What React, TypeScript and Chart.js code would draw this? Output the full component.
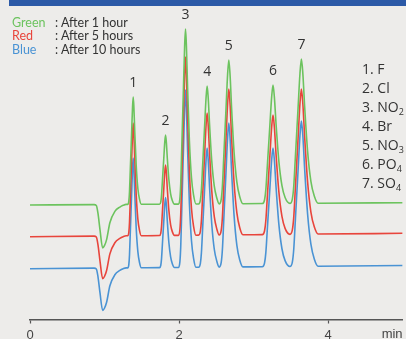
import { useEffect, useRef } from 'react';
import { Chart, registerables } from 'chart.js';

Chart.register(...registerables);

// ---- data ----
const seriesNames = ['Green', 'Red', 'Blue'];
const seriesDescriptions = [': After 1 hour', ': After 5 hours', ': After 10 hours'];
const seriesColors = ['#6cc35e', '#e8453c', '#4a93d4'];

const peakLabels = ['1', '2', '3', '4', '5', '6', '7'];
const compoundBase = ['1. F', '2. Cl', '3. NO', '4. Br', '5. NO', '6. PO', '7. SO'];
const compoundSub = ['', '', '2', '', '3', '4', '4'];

const xTickValues = [0, 2, 4];
const xUnitLabel = 'min';

// retention times (min) and half-widths (min)
const retentionTimes = [1.385, 1.819, 2.087, 2.377, 2.668, 3.261, 3.642];
const peakWidths = [0.031, 0.034, 0.04, 0.048, 0.054, 0.06, 0.064];

// apex signal of each peak (stacked signal units)
const greenApex = [222.5, 184.5, 290.5, 233.5, 259.5, 234.5, 260.5];
const redApex = [196.5, 154.5, 262.5, 206.5, 230.5, 204.5, 230.5];
const blueApex = [161.5, 122, 229.5, 171.5, 196.5, 171.5, 198.5];

// baseline level at start / end of run, and water-dip depth
const baselineStart = [114.5, 82.8, 50.8];
const baselineEnd = [116.8, 86.2, 54.0];
const dipDepth = [43.3, 42.6, 42.3];

// water dip shape (time, fraction of depth)
const dipTimes = [0.86, 0.89, 0.912, 0.939, 0.975, 0.999, 1.028, 1.072, 1.139, 1.206, 1.25, 1.29];
const dipFractions = [0, 0.02, 0.2, 0.58, 1.0, 0.95, 0.81, 0.42, 0.16, 0.06, 0.02, 0];

// peak shape (offset in half-widths, fraction of height)
const profileOffsets = [-2.4, -1.9, -1.6, -1.25, -0.7, -0.3, 0, 0.3, 0.7, 1.3, 2.0, 2.7, 3.5];
const profileFractions = [0, 0.03, 0.12, 0.33, 0.66, 0.9, 1, 0.9, 0.66, 0.36, 0.15, 0.05, 0];

const apexBySeries = [greenApex, redApex, blueApex];

function buildSeries(i: number) {
  const apex = apexBySeries[i];
  const base = (t: number) => baselineStart[i] + ((baselineEnd[i] - baselineStart[i]) * t) / 5;
  const pts: { x: number; y: number }[] = [];
  pts.push({ x: 0, y: base(0) });
  dipTimes.forEach((t, k) => pts.push({ x: t, y: base(t) - dipDepth[i] * dipFractions[k] }));
  retentionTimes.forEach((tc, p) => {
    const lo = p === 0 ? -Infinity : (retentionTimes[p - 1] + tc) / 2;
    const hi = p === retentionTimes.length - 1 ? Infinity : (tc + retentionTimes[p + 1]) / 2;
    const h = apex[p] - base(tc);
    profileOffsets.forEach((o, k) => {
      const t = tc + o * peakWidths[p];
      if (t > lo && t <= hi) pts.push({ x: t, y: base(t) + h * profileFractions[k] });
    });
  });
  pts.push({ x: 5, y: base(5) });
  return pts;
}

const textColor = '#333333';
const axisColor = '#555555';
const tickLength = 4;
const tickPadding = 4;

const annotationPlugin = {
  id: 'annotations',
  afterDatasetsDraw(chart: any) {
    const { ctx, scales, chartArea } = chart;
    const xs = scales.x;
    const ys = scales.y;
    ctx.save();
    ctx.fillStyle = textColor;
    ctx.font = '14px "Open Sans", "DejaVu Sans", sans-serif';
    ctx.textAlign = 'center';
    ctx.textBaseline = 'middle';
    peakLabels.forEach((lab, p) => {
      const x = xs.getPixelForValue(retentionTimes[p]);
      const y = ys.getPixelForValue(greenApex[p]) - 14;
      ctx.fillText(lab, x, y);
    });
    ctx.font = '13px "Liberation Sans", Arial, sans-serif';
    ctx.fillStyle = '#444444';
    ctx.textAlign = 'right';
    ctx.textBaseline = 'top';
    ctx.fillText(xUnitLabel, chartArea.right, chartArea.bottom + tickLength + tickPadding);
    ctx.restore();
  },
};

function ChartCanvas() {
  const ref = useRef<HTMLCanvasElement | null>(null);
  useEffect(() => {
    if (!ref.current) return;
    const chart = new Chart(ref.current, {
      type: 'line',
      data: {
        datasets: seriesNames.map((name, i) => ({
          label: name,
          data: buildSeries(i),
          borderColor: seriesColors[i],
          borderWidth: 1.6,
          pointRadius: 0,
          fill: false,
          cubicInterpolationMode: 'monotone' as const,
        })),
      },
      options: {
        animation: false,
        responsive: false,
        parsing: false,
        layout: { padding: { left: 30, right: 3.4, top: 9.5, bottom: 0 } },
        plugins: { legend: { display: false }, tooltip: { enabled: false } },
        scales: {
          x: {
            type: 'linear',
            min: 0,
            max: 5,
            afterBuildTicks: (scale: any) => {
              scale.ticks = xTickValues.map((v) => ({ value: v }));
            },
            afterFit: (scale: any) => {
              scale.height = 22.5;
            },
            ticks: {
              color: '#444444',
              padding: tickPadding,
              font: { size: 13, family: '"Liberation Sans", Arial, sans-serif' },
              maxRotation: 0,
            },
            grid: { drawOnChartArea: false, drawTicks: true, tickLength: tickLength, color: axisColor, tickWidth: 1.2 },
            border: { display: true, color: axisColor, width: 1.5 },
          },
          y: { type: 'linear', display: false, min: 0, max: 310 },
        },
      },
      plugins: [annotationPlugin],
    } as any);
    return () => chart.destroy();
  }, []);
  return <canvas ref={ref} width={406} height={342} style={{ position: 'absolute', left: 0, top: 0 }} />;
}

export default function App() {
  return (
    <div
      style={{
        position: 'fixed',
        left: 0,
        top: 0,
        width: 406,
        height: 339,
        overflow: 'hidden',
        background: '#edecea',
      }}
    >
      <div style={{ position: 'absolute', left: 9, top: 0, width: 397, height: 6, background: '#2c5aa7' }} />
      <ChartCanvas />
      <div
        style={{
          position: 'absolute',
          left: 12,
          top: 15.6,
          fontFamily: 'Lato, "Open Sans", sans-serif',
          fontSize: 12.5,
          lineHeight: '13.5px',
        }}
      >
        {seriesNames.map((n, i) => (
          <div key={n} style={{ position: 'relative', height: 13.5, whiteSpace: 'nowrap' }}>
            <span style={{ color: seriesColors[i] }}>{n}</span>
            <span style={{ position: 'absolute', left: 43, color: textColor }}>{seriesDescriptions[i]}</span>
          </div>
        ))}
      </div>
      <div
        style={{
          position: 'absolute',
          left: 362,
          top: 58.8,
          fontFamily: '"Open Sans", "Noto Sans", sans-serif',
          fontSize: 14,
          lineHeight: '19px',
          color: textColor,
          whiteSpace: 'nowrap',
        }}
      >
        {compoundBase.map((c, i) => (
          <div key={c + i} style={{ height: 19 }}>
            {c}
            {compoundSub[i] ? (
              <span style={{ fontSize: 9, position: 'relative', top: 3 }}>{compoundSub[i]}</span>
            ) : null}
          </div>
        ))}
      </div>
    </div>
  );
}
